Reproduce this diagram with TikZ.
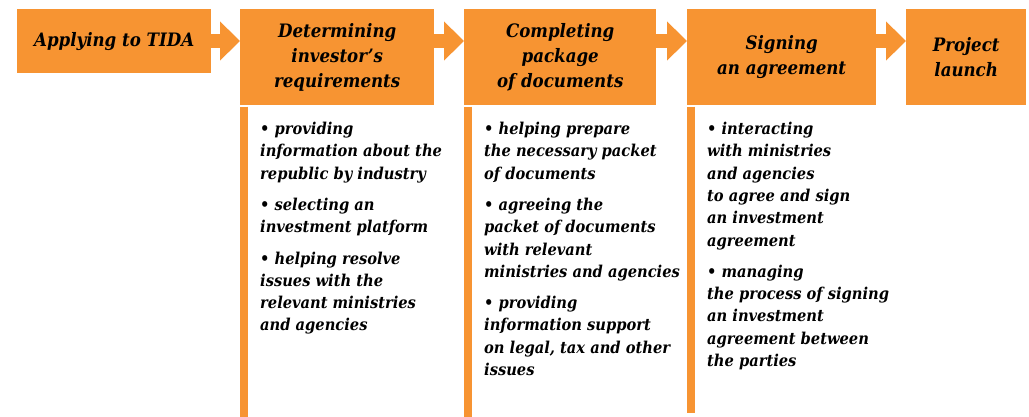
\documentclass[tikz,border=0pt]{standalone}
\usepackage{fontspec}
\setmainfont{DejaVu Serif Condensed}
\usetikzlibrary{arrows.meta,calc}
\definecolor{orng}{RGB}{247,148,50}
\newcommand\headfnt{\fontsize{18.5}{25}\selectfont\bfseries\itshape}
\newcommand\bodyfnt{\fontsize{16.3}{22.3}\selectfont\bfseries\itshape}
\begin{document}
\begin{tikzpicture}[x=1pt,y=-1pt,
  stepbox/.style={fill=orng, inner sep=0pt, anchor=north west, align=center, font=\headfnt, text=black},
  bodytext/.style={inner sep=0pt, anchor=north west, align=left, font=\bodyfnt, text=black},
  flow/.style={draw=orng, line width=14pt, -{Triangle[length=20pt,width=38pt]}},
  bar/.style={draw=orng, line width=8.3pt}]
\useasboundingbox (0,0) rectangle (1029,417);
\node[stepbox, minimum width=194pt, minimum height=64pt] (b1) at (17,9) {Applying to TIDA};
\node[stepbox, minimum width=194pt, minimum height=96pt] (b2) at (240,9) {Determining\\investor’s\\requirements};
\node[stepbox, minimum width=192pt, minimum height=96pt] (b3) at (464,9) {Completing\\package\\of documents};
\node[stepbox, minimum width=189pt, minimum height=96pt] (b4) at (687,9) {Signing\\an agreement};
\node[stepbox, minimum width=120pt, minimum height=96pt] (b5) at (906,9) {Project\\launch};
\draw[flow] ($(b1.north east)+(0,32)$) -- ($(b2.north west)+(0,32)$);
\draw[flow] ($(b2.north east)+(0,32)$) -- ($(b3.north west)+(0,32)$);
\draw[flow] ($(b3.north east)+(0,32)$) -- ($(b4.north west)+(0,32)$);
\draw[flow] ($(b4.north east)+(0,32)$) -- ($(b5.north west)+(0,32)$);
\coordinate (e2) at ($(b2.south west)+(4.15,312)$);
\coordinate (e3) at ($(b3.south west)+(4.15,312)$);
\coordinate (e4) at ($(b4.south west)+(4.15,308)$);
\draw[bar] ($(b2.south west)+(4.15,1.3)$) -- (e2);
\draw[bar] ($(b3.south west)+(4.15,1.3)$) -- (e3);
\draw[bar] ($(b4.south west)+(4.15,1.3)$) -- (e4);
\node[bodytext] (t2) at (260,122) {• providing\\information about the\\republic by industry\\[9pt]• selecting an\\investment platform\\[9pt]• helping resolve\\issues with the\\relevant ministries\\and agencies};
\node[bodytext] (t3) at (484,122) {• helping prepare\\the necessary packet\\of documents\\[9pt]• agreeing the\\packet of documents\\with relevant\\ministries and agencies\\[9pt]• providing\\information support\\on legal, tax and other\\issues};
\node[bodytext] (t4) at (707,122) {• interacting\\with ministries\\and agencies\\to agree and sign\\an investment\\agreement\\[9pt]• managing\\the process of signing\\an investment\\agreement between\\the parties};
\end{tikzpicture}
\end{document}
